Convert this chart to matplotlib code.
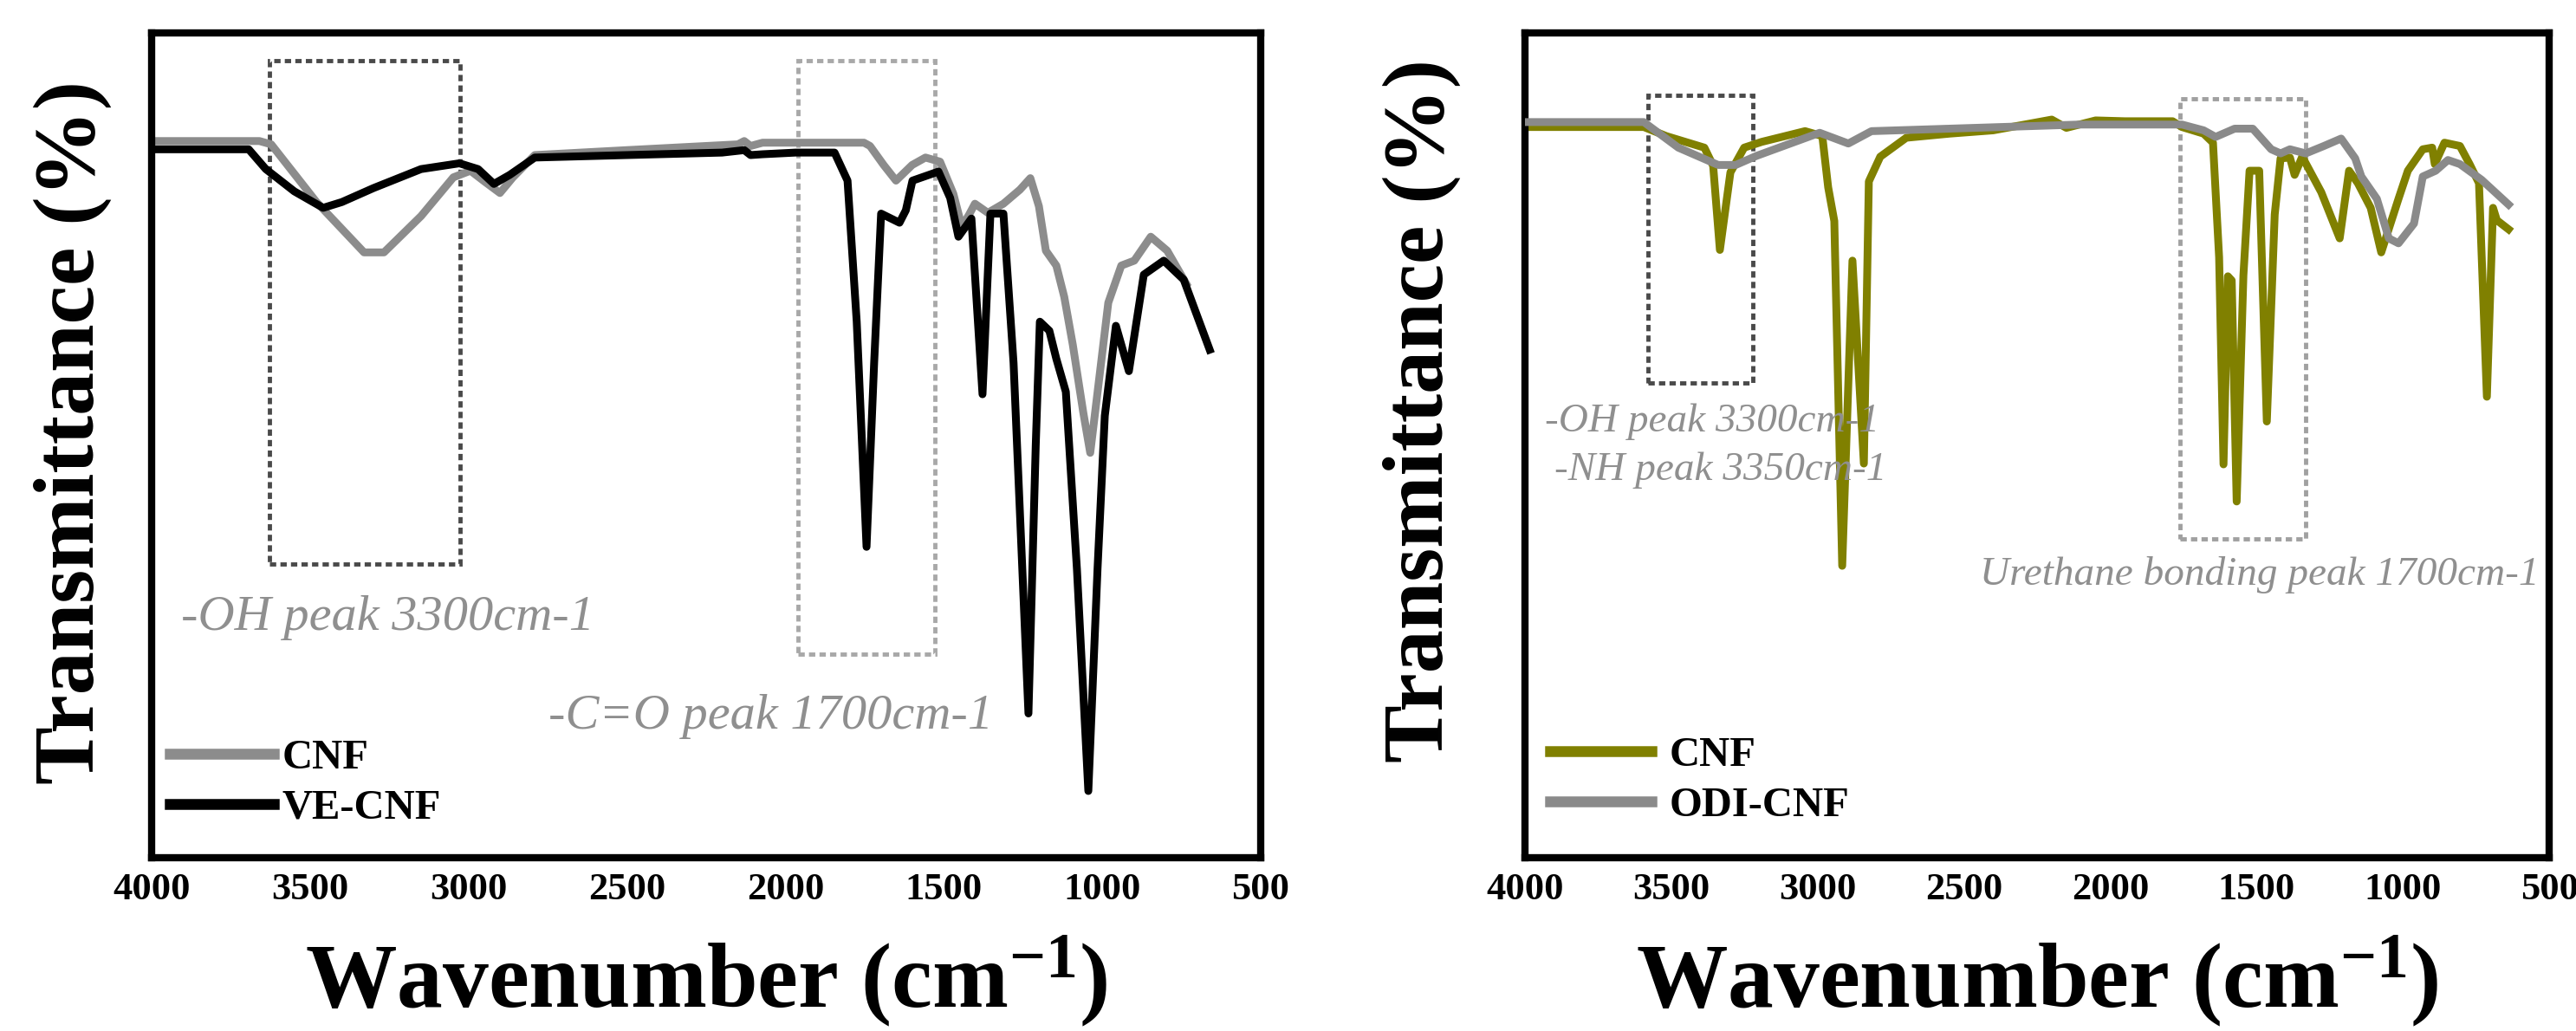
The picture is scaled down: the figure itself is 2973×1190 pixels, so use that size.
import matplotlib
matplotlib.use("Agg")
import matplotlib.pyplot as plt
from matplotlib.patches import Rectangle
from matplotlib.lines import Line2D

# === FONTS ===
plt.rcParams['font.family'] = ['Liberation Serif', 'DejaVu Serif']
plt.rcParams['mathtext.fontset'] = 'custom'
plt.rcParams['mathtext.rm'] = 'Liberation Serif:bold'
plt.rcParams['mathtext.bf'] = 'Liberation Serif:bold'
plt.rcParams['mathtext.it'] = 'Liberation Serif:bold:italic'

# === DATA (wavenumber cm-1, transmittance in % of axis height) ===
# left panel: CNF vs VE-CNF
cnf_l_wn = [4000, 3660, 3623, 3480, 3330, 3267, 3150, 3048, 2994, 2950, 2901, 2860, 2791,
            2500, 2300, 2150, 2130, 2110, 2072, 1752, 1733, 1690, 1651, 1600, 1558, 1512,
            1470, 1443, 1420, 1402, 1361, 1312, 1260, 1227, 1200, 1178, 1145, 1120, 1093,
            1060, 1038, 1010, 981, 940, 899, 847, 795, 735]
cnf_l_t = [86.9, 86.9, 86.5, 79.5, 73.4, 73.4, 77.8, 82.5, 83.3, 82.0, 80.6, 82.5, 85.2,
           85.8, 86.2, 86.5, 86.9, 86.3, 86.7, 86.7, 86.3, 84.0, 82.1, 84.0, 84.9, 84.4,
           80.5, 76.5, 78.0, 79.3, 78.2, 79.3, 81.0, 82.4, 79.0, 73.6, 71.8, 68.0, 62.2,
           54.0, 49.1, 58.0, 67.3, 71.8, 72.4, 75.3, 73.6, 69.6]

ve_wn = [4000, 3694, 3640, 3550, 3459, 3400, 3300, 3150, 3029, 2970, 2920, 2870, 2791,
         2500, 2200, 2130, 2110, 2072, 1968, 1845, 1804, 1775, 1744, 1720, 1698, 1640,
         1620, 1599, 1517, 1480, 1454, 1413, 1378, 1353, 1312, 1280, 1233, 1210, 1197,
         1167, 1145, 1115, 1080, 1044, 1015, 992, 957, 916, 869, 806, 743, 661]
ve_t = [85.9, 85.9, 83.5, 80.8, 78.8, 79.5, 81.2, 83.5, 84.2, 83.5, 81.7, 82.8, 84.9,
        85.2, 85.5, 85.8, 85.2, 85.3, 85.5, 85.5, 82.1, 65.0, 37.7, 60.0, 78.1, 77.0,
        78.5, 82.1, 83.2, 80.0, 75.3, 77.5, 56.2, 78.1, 78.1, 60.0, 17.5, 50.0, 65.0,
        63.9, 60.5, 56.5, 35.0, 8.1, 35.0, 53.6, 64.5, 59.0, 70.7, 72.4, 70.1, 61.6]

# right panel: CNF vs ODI-CNF
cnf_r_wn = [4000, 3594, 3517, 3387, 3357, 3334, 3298, 3251, 3191, 3043, 2984, 2964, 2943,
            2916, 2881, 2842, 2825, 2786, 2697, 2549, 2400, 2200, 2150, 2050, 1950, 1787,
            1755, 1681, 1649, 1628, 1613, 1598, 1585, 1568, 1545, 1524, 1491, 1465, 1438,
            1418, 1386, 1370, 1344, 1279, 1216, 1184, 1154, 1110, 1074, 1015, 983, 932,
            900, 891, 858, 805, 772, 740, 713, 692, 679, 639]
cnf_r_t = [88.6, 88.6, 87.5, 86.1, 83.9, 73.7, 83.1, 86.1, 86.8, 88.1, 87.5, 81.3, 77.2,
           35.4, 72.4, 47.8, 82.0, 85.0, 87.3, 87.8, 88.2, 89.5, 88.5, 89.4, 89.3, 89.3,
           88.6, 87.8, 86.7, 72.8, 47.7, 70.5, 70.0, 43.2, 70.6, 83.3, 83.3, 52.9, 78.0,
           84.8, 84.9, 82.8, 85.0, 80.7, 75.1, 83.3, 81.8, 78.8, 73.4, 79.9, 83.3, 85.9,
           86.1, 84.1, 86.7, 86.3, 84.1, 81.8, 55.9, 78.8, 77.3, 76.2]

odi_wn = [4000, 3594, 3476, 3340, 3280, 3209, 2993, 2895, 2816, 2549, 2105, 1755, 1681,
          1640, 1575, 1513, 1450, 1418, 1386, 1332, 1270, 1211, 1163, 1142, 1089, 1048,
          1015, 962, 932, 888, 846, 805, 731, 639]
odi_t = [89.2, 89.2, 86.1, 84.0, 84.0, 85.1, 87.9, 86.6, 88.1, 88.4, 88.9, 88.9, 88.2,
         87.4, 88.4, 88.4, 85.9, 85.4, 85.9, 85.4, 86.3, 87.2, 84.8, 82.6, 79.9, 75.1,
         74.5, 76.9, 82.6, 83.3, 84.6, 84.1, 82.2, 79.2]

x_ticks = [4000, 3500, 3000, 2500, 2000, 1500, 1000, 500]

# highlight boxes: (wn_high, wn_low, t_low, t_high, colour)
boxes_l = [(3628, 3027, 35.6, 96.6, '#4a4a4a'), (1960, 1528, 24.7, 96.6, '#a8a8a8')]
boxes_r = [(3579, 3221, 57.6, 92.4, '#4a4a4a'), (1761, 1332, 38.7, 92.0, '#a0a0a0')]

# === FIGURE ===
fig = plt.figure(figsize=(29.73, 11.90), dpi=100)
ax1 = fig.add_axes([0.0589, 0.168, 0.4305, 0.800])
ax2 = fig.add_axes([0.592, 0.168, 0.3976, 0.800])


def style_axes(ax, label_x, label_y):
    ax.set_xlim(4000, 500)
    ax.set_ylim(0, 100)
    ax.set_xticks(x_ticks)
    ax.set_xticklabels([str(t) for t in x_ticks], fontsize=32, fontweight='bold')
    ax.set_yticks([])
    ax.tick_params(axis='x', length=0, pad=12)
    for s in ax.spines.values():
        s.set_linewidth(6)
        s.set_color('black')
    ax.set_xlabel('Wavenumber (cm$^{-1}$)', fontsize=76, fontweight='bold', labelpad=22)
    ax.set_ylabel('Transmittance (%)', fontsize=72, fontweight='bold')
    ax.yaxis.set_label_coords(label_x, label_y)


def draw_boxes(ax, boxes):
    for hi, lo, b, t, c in boxes:
        ax.add_patch(Rectangle((hi, b), lo - hi, t - b, fill=False, edgecolor=c,
                               linewidth=3.5, linestyle=(0, (1.5, 1)), zorder=1))


# --- left panel ---
draw_boxes(ax1, boxes_l)
ax1.plot(cnf_l_wn, cnf_l_t, color='#8c8c8c', lw=6.5, zorder=2, solid_joinstyle='round')
ax1.plot(ve_wn, ve_t, color='black', lw=6.5, zorder=3, solid_joinstyle='round')
ax1.text(3907, 29.1, '-OH peak 3300cm-1', fontsize=42, style='italic', color='#8f8f8f',
         ha='left', va='center')
ax1.text(2748, 17.1, '-C=O peak 1700cm-1', fontsize=42, style='italic', color='#8f8f8f',
         ha='left', va='center')
h1 = [Line2D([], [], color='#8c8c8c', lw=9), Line2D([], [], color='black', lw=9)]
ax1.legend(h1, ['CNF', 'VE-CNF'], loc='lower left', bbox_to_anchor=(0.016, 0.037),
           frameon=False, prop={'size': 35, 'weight': 'bold'}, handlelength=2.47,
           handletextpad=0.2, labelspacing=0.28, borderpad=0, borderaxespad=0)
style_axes(ax1, -0.036, 0.516)

# --- right panel ---
draw_boxes(ax2, boxes_r)
ax2.plot(cnf_r_wn, cnf_r_t, color='#808000', lw=6.5, zorder=2, solid_joinstyle='round')
ax2.plot(odi_wn, odi_t, color='#8a8a8a', lw=6.5, zorder=3, solid_joinstyle='round')
ax2.text(3932, 52.9, '-OH peak 3300cm-1', fontsize=34, style='italic', color='#8f8f8f',
         ha='left', va='center')
ax2.text(3899, 47.0, '-NH peak 3350cm-1', fontsize=34, style='italic', color='#8f8f8f',
         ha='left', va='center')
ax2.text(2445, 34.3, 'Urethane bonding peak 1700cm-1', fontsize=34, style='italic',
         color='#8f8f8f', ha='left', va='center')
h2 = [Line2D([], [], color='#808000', lw=9), Line2D([], [], color='#8a8a8a', lw=9)]
ax2.legend(h2, ['CNF', 'ODI-CNF'], loc='lower left', bbox_to_anchor=(0.0245, 0.040),
           frameon=False, prop={'size': 35, 'weight': 'bold'}, handlelength=2.4,
           handletextpad=0.43, labelspacing=0.28, borderpad=0, borderaxespad=0)
style_axes(ax2, -0.063, 0.542)

fig.savefig('out.png', dpi=100)
